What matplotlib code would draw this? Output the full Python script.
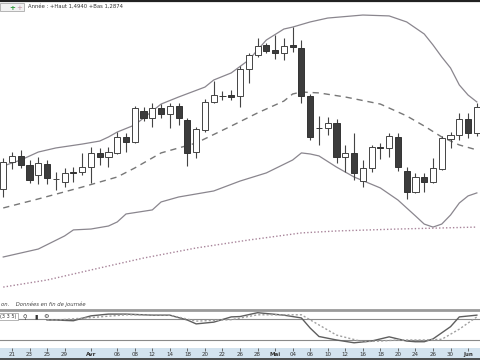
import numpy as np
import matplotlib
matplotlib.use("Agg")
import matplotlib.pyplot as plt
from matplotlib.patches import Rectangle

# EUR/USD daily, 18 March -> 2 June 2011
days = list(range(-1, 54))
opens = [1.4025, 1.4178, 1.4212, 1.4161, 1.4104, 1.4166, 1.4079, 1.4065, 1.4121, 1.4121,
         1.4149, 1.4229, 1.4206, 1.4229, 1.4319, 1.4291, 1.4466, 1.4426, 1.4483, 1.4449,
         1.4494, 1.4415, 1.4234, 1.4359, 1.4517, 1.4552, 1.4556, 1.4551, 1.4703, 1.4782,
         1.4839, 1.4811, 1.4794, 1.4839, 1.4822, 1.4551, 1.4370, 1.4370, 1.4398, 1.4206,
         1.4229, 1.4070, 1.4144, 1.4262, 1.4257, 1.4319, 1.4127, 1.4008, 1.4093, 1.4065,
         1.4138, 1.4308, 1.4330, 1.4421, 1.4342]
highs = [1.4200, 1.4234, 1.4246, 1.4189, 1.4206, 1.4189, 1.4121, 1.4144, 1.4149, 1.4229,
         1.4262, 1.4257, 1.4262, 1.4347, 1.4342, 1.4494, 1.4488, 1.4511, 1.4505, 1.4511,
         1.4511, 1.4426, 1.4375, 1.4534, 1.4635, 1.4579, 1.4585, 1.4720, 1.4794, 1.4878,
         1.4850, 1.4895, 1.4878, 1.4940, 1.4867, 1.4562, 1.4438, 1.4432, 1.4421, 1.4274,
         1.4342, 1.4189, 1.4274, 1.4285, 1.4342, 1.4342, 1.4149, 1.4116, 1.4116, 1.4200,
         1.4325, 1.4347, 1.4455, 1.4455, 1.4511]
lows = [1.3980, 1.4138, 1.4144, 1.4059, 1.4053, 1.4053, 1.4020, 1.4036, 1.4065, 1.4104,
        1.4059, 1.4161, 1.4149, 1.4223, 1.4234, 1.4285, 1.4409, 1.4375, 1.4426, 1.4370,
        1.4387, 1.4155, 1.4200, 1.4347, 1.4511, 1.4528, 1.4528, 1.4488, 1.4624, 1.4771,
        1.4794, 1.4760, 1.4754, 1.4799, 1.4511, 1.4302, 1.4274, 1.4330, 1.4172, 1.4121,
        1.4076, 1.4036, 1.4121, 1.4195, 1.4206, 1.4127, 1.3969, 1.4003, 1.4008, 1.4059,
        1.4133, 1.4257, 1.4302, 1.4313, 1.4325]
closes = [1.4178, 1.4212, 1.4161, 1.4076, 1.4172, 1.4087, 1.4082, 1.4116, 1.4116, 1.4149,
          1.4229, 1.4206, 1.4234, 1.4319, 1.4291, 1.4483, 1.4426, 1.4483, 1.4449, 1.4494,
          1.4426, 1.4229, 1.4364, 1.4517, 1.4556, 1.4548, 1.4545, 1.4703, 1.4782, 1.4833,
          1.4805, 1.4794, 1.4833, 1.4827, 1.4551, 1.4319, 1.4367, 1.4398, 1.4206, 1.4229,
          1.4116, 1.4144, 1.4262, 1.4254, 1.4325, 1.4149, 1.4008, 1.4093, 1.4065, 1.4144,
          1.4313, 1.4330, 1.4421, 1.4342, 1.4488]

# Bollinger bands + long moving average (sampled points)
upper_days = [-1, 1, 3, 5, 8, 10, 11, 12, 14, 15, 17, 19, 22, 23, 25, 27, 28, 29, 31, 32,
              34, 36, 40, 43, 45, 47, 48, 49, 50, 51, 52, 53]
upper_vals = [1.4155, 1.4189, 1.4234, 1.4257, 1.4279, 1.4296, 1.4319, 1.4347, 1.4387, 1.4426,
              1.4505, 1.4545, 1.4601, 1.4641, 1.4681, 1.4754, 1.4811, 1.4867, 1.4929, 1.4940,
              1.4969, 1.4991, 1.5008, 1.5003, 1.4969, 1.4901, 1.4839, 1.4771, 1.4709, 1.4613,
              1.4556, 1.4517]
mid_days = [-1, 3, 8, 12, 14, 17, 21, 25, 28, 31, 32, 33, 35, 38, 42, 45, 47, 49, 51, 53]
mid_vals = [1.3918, 1.3969, 1.4036, 1.4093, 1.4144, 1.4229, 1.4285, 1.4381, 1.4455, 1.4522,
            1.4562, 1.4573, 1.4568, 1.4545, 1.4505, 1.4438, 1.4381, 1.4319, 1.4274, 1.4246]
lower_days = [-1, 3, 6, 7, 9, 11, 12, 13, 16, 17, 19, 23, 26, 29, 32, 33, 34, 35, 37, 39,
              42, 44, 45, 46, 47, 48, 49, 50, 51, 52, 53]
lower_vals = [1.3641, 1.3686, 1.3760, 1.3794, 1.3799, 1.3816, 1.3839, 1.3884, 1.3907, 1.3952,
              1.3980, 1.4014, 1.4070, 1.4116, 1.4189, 1.4229, 1.4223, 1.4212, 1.4149, 1.4093,
              1.4031, 1.3963, 1.3918, 1.3873, 1.3827, 1.3810, 1.3827, 1.3878, 1.3946, 1.3986,
              1.4003]
ma_days = [-1, 4, 10, 15, 21, 27, 33, 37, 44, 49, 53]
ma_vals = [1.3471, 1.3511, 1.3579, 1.3635, 1.3692, 1.3737, 1.3777, 1.3788, 1.3799, 1.3805,
           1.3810]

# Stochastic (3 3 5)
k_days = [4, 5, 7, 9, 11, 13, 16, 18, 20, 21, 23, 25, 26, 28, 31, 33, 34, 35, 37, 39,
          41, 43, 45, 46, 47, 48, 50, 51, 53]
k_vals = [77, 77, 75, 89, 94, 94, 91, 91, 77, 66, 71, 86, 87, 98, 91, 83, 54, 30, 20, 12,
          17, 29, 17, 15, 15, 23, 58, 86, 91]
d_days = [4, 5, 9, 13, 18, 21, 25, 28, 33, 35, 37, 40, 42, 44, 47, 49, 51, 53]
d_vals = [77, 77, 84, 92, 91, 74, 78, 92, 92, 63, 34, 15, 17, 20, 20, 22, 51, 86]

tick_days = [0, 2, 4, 6, 9, 12, 14, 16, 18, 20, 22, 24, 26, 28, 30, 32, 34, 36, 38, 40,
             42, 44, 46, 48, 50, 52]
tick_labels = ["21", "23", "25", "29", "Avr", "06", "08", "12", "14", "18", "20", "22", "26",
               "28", "Mai", "04", "06", "10", "12", "16", "18", "20", "24", "26", "30", "Jun"]

XMIN, XMAX = -1.368, 53.36

fig = plt.figure(figsize=(4.8, 3.6), dpi=100)

# main price panel
ax = fig.add_axes([0, 50 / 360, 1, 307 / 360])
ax.set_xlim(XMIN, XMAX)
ax.set_ylim(1.33415, 1.5076)
ax.axis("off")

band_col = "#8a868e"
ax.plot(upper_days, upper_vals, color=band_col, lw=0.9)
ax.plot(lower_days, lower_vals, color=band_col, lw=0.9)
ax.plot(mid_days, mid_vals, color="#777777", lw=1.0, dashes=(4.5, 3.5))
ax.plot(ma_days, ma_vals, color="#a8849a", lw=1.0, linestyle=(0, (1, 1.5)))

o = np.array(opens)
c = np.array(closes)
up = c >= o
ax.vlines(days, lows, highs, color="#444444", lw=0.8, zorder=3)
body_lo = np.minimum(o, c)
body_h = np.abs(c - o)
ax.bar(np.array(days)[up], body_h[up], bottom=body_lo[up], width=0.7,
       color="white", edgecolor="#444444", linewidth=0.7, zorder=4)
ax.bar(np.array(days)[~up], body_h[~up], bottom=body_lo[~up], width=0.7,
       color="#3c3c3c", edgecolor="#333333", linewidth=0.7, zorder=4)

# header
fig.add_artist(plt.Line2D([0, 1], [1 - 1 / 360, 1 - 1 / 360], color="#222222", lw=1.6))
fig.add_artist(Rectangle((0, 1 - 11 / 360), 24 / 480, 8 / 360, facecolor="#f2f2f2",
                         edgecolor="#aaaaaa", lw=0.6))
fig.text(12 / 480, 1 - 7.5 / 360, "+", color="#2f9a3a", fontsize=5, fontweight="bold",
         ha="center", va="center")
fig.text(19 / 480, 1 - 7.5 / 360, "+", color="#c090a0", fontsize=5,
         ha="center", va="center")
fig.text(28 / 480, 1 - 6.5 / 360, "Année : +Haut 1,4940 +Bas 1,2874", fontsize=3.8,
         color="#333333", va="center")

fig.text(1 / 480, 1 - 304 / 360, "on.    Données en fin de journée", fontsize=3.8,
         style="italic", color="#444444", va="center")

# separator
fig.add_artist(plt.Line2D([0, 1], [1 - 310 / 360, 1 - 310 / 360], color="#9a9a9a", lw=2))

# stochastic panel
ax2 = fig.add_axes([0, 12 / 360, 1, 36 / 360])
ax2.set_xlim(XMIN, XMAX)
ax2.set_ylim(-2.9, 100)
ax2.axis("off")
ax2.axhline(80, color="#8a8a8a", lw=0.8)
ax2.axhline(20, color="#8a8a8a", lw=0.8)
ax2.plot(k_days, k_vals, color="#5e5e5e", lw=1.0)
ax2.plot(d_days, d_vals, color="#a0a0a0", lw=1.0, linestyle=(0, (1.5, 1.5)))
ax2.text(0.5 / 480, 0.87, "(3 3 5)", transform=ax2.transAxes, fontsize=3.6, color="#333333",
         va="center", bbox=dict(boxstyle="square,pad=0.25", fc="white", ec="#999999", lw=0.5))
for xi, s in zip([25, 36, 46], ["⚲", "▮", "⚙"]):
    ax2.text(xi / 480, 0.87, s, transform=ax2.transAxes, fontsize=4.5, color="#333333",
             ha="center", va="center")

# date band
ax3 = fig.add_axes([0, 0, 1, 12 / 360])
ax3.set_xlim(XMIN, XMAX)
ax3.set_ylim(0, 1)
ax3.set_facecolor("#d3e3ef")
for sp in ax3.spines.values():
    sp.set_visible(False)
ax3.set_xticks([])
ax3.set_yticks([])
ax3.axhline(0.05, color="#333333", lw=1.2)
ax3.vlines(tick_days, 0.78, 1.0, color="#555555", lw=0.6)
for d, lab in zip(tick_days, tick_labels):
    bold = lab in ("Avr", "Mai", "Jun")
    ax3.text(d, 0.45, lab, fontsize=4, ha="center", va="center", color="#333333",
             fontweight="bold" if bold else "normal")

fig.savefig("out.png", dpi=100)
